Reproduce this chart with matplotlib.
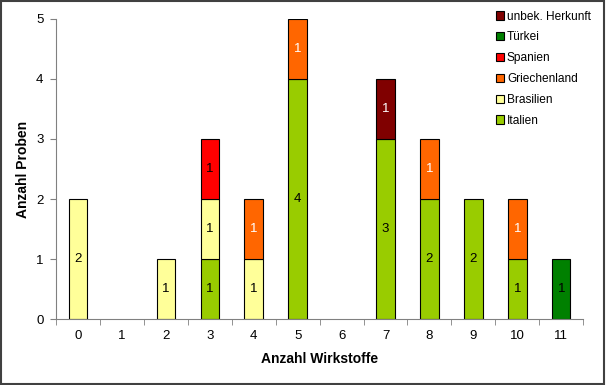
import numpy as np
import matplotlib.pyplot as plt
from matplotlib.patches import Rectangle

plt.rcParams['font.family'] = ['Liberation Sans', 'DejaVu Sans']

categories = ['0', '1', '2', '3', '4', '5', '6', '7', '8', '9', '10', '11']
series = ['Italien', 'Brasilien', 'Griechenland', 'Spanien', 'Türkei', 'unbek. Herkunft']
italien = [0, 0, 0, 1, 0, 4, 0, 3, 2, 2, 1, 0]
brasilien = [2, 0, 1, 1, 1, 0, 0, 0, 0, 0, 0, 0]
griechenland = [0, 0, 0, 0, 1, 1, 0, 0, 1, 0, 1, 0]
spanien = [0, 0, 0, 1, 0, 0, 0, 0, 0, 0, 0, 0]
tuerkei = [0, 0, 0, 0, 0, 0, 0, 0, 0, 0, 0, 1]
unbekannt = [0, 0, 0, 0, 0, 0, 0, 1, 0, 0, 0, 0]

values = [italien, brasilien, griechenland, spanien, tuerkei, unbekannt]
colors = ['#99CC00', '#FFFF99', '#FF6600', '#FF0000', '#008000', '#800000']
label_colors = ['black', 'black', 'white', 'black', 'black', 'white']

fig = plt.figure(figsize=(6.06, 3.85), dpi=100)
ax = fig.add_axes([0.0924, 0.171, 0.87, 0.78])

x = np.arange(len(categories))
bottom = np.zeros(len(categories))
handles = []
for name, vals, col, lcol in zip(series, values, colors, label_colors):
    vals = np.array(vals, dtype=float)
    nz = vals > 0
    # only draw the non-empty segments, zero-height bars would leave a line
    bars = ax.bar(x[nz], vals[nz], 0.42, bottom=bottom[nz], color=col,
                  edgecolor='black', linewidth=0.8, label=name)
    for xi, v, b in zip(x[nz], vals[nz], bottom[nz]):
        ax.text(xi, b + v / 2, f'{int(v)}', ha='center', va='center',
                fontsize=9.5, color=lcol)
    handles.append(bars)
    bottom += vals

ax.set_xlim(-0.5, 11.5)
ax.set_ylim(0, 5)
ax.set_yticks(range(6))
ax.set_xticks(x)
ax.set_xticklabels(categories)
ax.set_xticks(np.arange(-0.5, 12, 1), minor=True)
ax.tick_params(axis='x', which='major', length=0, pad=8, labelsize=9.5)
ax.tick_params(axis='x', which='minor', length=4, color='#808080', direction='out')
ax.tick_params(axis='y', length=4, color='#808080', direction='out', labelsize=9.5, pad=5)
for s in ['top', 'right']:
    ax.spines[s].set_visible(False)
for s in ['left', 'bottom']:
    ax.spines[s].set_color('#808080')
    ax.spines[s].set_linewidth(0.8)

ax.set_xlabel('Anzahl Wirkstoffe', fontsize=10, fontweight='bold', labelpad=7)
ax.set_ylabel('Anzahl Proben', fontsize=10, fontweight='bold', labelpad=4)

fig.legend(handles[::-1], series[::-1], loc='upper left',
           bbox_to_anchor=(0.81, 0.985), frameon=False, fontsize=8.6,
           handlelength=0.7, handleheight=0.7, handletextpad=0.25,
           labelspacing=0.74, borderaxespad=0)

fig.patches.append(Rectangle((0.002, 0.003), 0.995, 0.994, transform=fig.transFigure,
                             fill=False, edgecolor='#404040', linewidth=1.5))

fig.savefig('out.png', dpi=100)
